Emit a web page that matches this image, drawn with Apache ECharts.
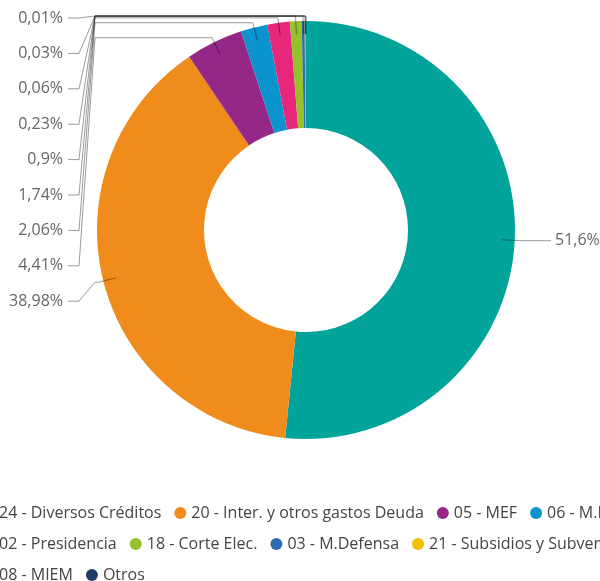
<!DOCTYPE html>
<html><head><meta charset="utf-8">
<script src="https://cdn.jsdelivr.net/npm/echarts@6/dist/echarts.min.js"></script>
<style>html,body{margin:0;padding:0;background:#fff;overflow:hidden}#c{width:600px;height:581px}</style>
</head><body><div id="c"></div>
<script>
const categories = ['24 - Diversos Créditos', '20 - Inter. y otros gastos Deuda', '05 - MEF', '06 - M.RREE', '02 - Presidencia', '18 - Corte Elec.', '03 - M.Defensa', '21 - Subsidios y Subvenciones', '08 - MIEM', 'Otros'];
const shares = [51.6, 38.98, 4.41, 2.06, 1.74, 0.9, 0.23, 0.06, 0.03, 0.01];
const colors = ['#01A39A', '#F08C1C', '#952787', '#0A93CC', '#E7277C', '#95C12B', '#2F6CB3', '#EFC000', '#D64550', '#1F3F68'];

const chart = echarts.init(document.getElementById('c'), null, {renderer: 'canvas'});
const CX = 306, CY = 230, R0 = 102, R = 209;
const LABEL_RIGHT = 63, SLOT_TOP = 18, SLOT_STEP = 35.4, ELBOW_X = 95, FOOT_X = 79;
const N = shares.length;

function fmt(v) { return String(v).replace('.', ',') + '%'; }

const pieData = categories.map((n, i) => ({name: n, value: shares[i]}));

const option = {
  animation: false,
  color: colors,
  legend: {
    left: -18, top: 504, width: 740, orient: 'horizontal', padding: 0,
    icon: 'circle', itemWidth: 12, itemHeight: 12, itemGap: 13,
    textStyle: {fontSize: 16, color: '#444', fontFamily: 'Open Sans', lineHeight: 18},
    data: categories
  },
  series: [{
    type: 'pie', z: 2, center: [CX, CY], radius: [R0, R], startAngle: 90, clockwise: true,
    avoidLabelOverlap: false,
    data: pieData,
    label: {show: false},
    labelLine: {show: false},
    emphasis: {disabled: true}
  }, {
    // transparent overlay carrying the labels so the leader lines draw over the slices
    type: 'pie', z: 3, silent: true, center: [CX, CY], radius: [R0, R], startAngle: 90, clockwise: true,
    avoidLabelOverlap: false,
    data: pieData,
    legendHoverLink: false,
    itemStyle: {color: 'rgba(0,0,0,0)'},
    label: {show: true, position: 'outside', formatter: p => fmt(p.value), color: '#666', fontSize: 16, fontFamily: 'Open Sans'},
    labelLine: {show: true, length: 5, length2: 10, lineStyle: {color: 'rgba(0,0,0,0.4)', width: 1}},
    emphasis: {disabled: true},
    labelLayout: function (p) {
      const pts = p.labelLinePoints;
      if (!pts) return {};
      let dx = pts[1][0] - pts[0][0], dy = pts[1][1] - pts[0][1];
      const len = Math.hypot(dx, dy) || 1; dx /= len; dy /= len;
      const start = [pts[0][0] - dx * 13, pts[0][1] - dy * 13];
      const knee = [pts[0][0] + dx * 5, pts[0][1] + dy * 5];
      const d = p.dataIndex;
      if (d === 0) {
        return {x: 555, y: knee[1], align: 'left', verticalAlign: 'middle',
          labelLinePoints: [start, knee, [551, knee[1]]]};
      }
      const ly = SLOT_TOP + (N - 1 - d) * SLOT_STEP;
      return {x: LABEL_RIGHT, y: ly, align: 'right', verticalAlign: 'middle',
        labelLinePoints: [start, knee, [ELBOW_X, knee[1]], [FOOT_X, ly], [LABEL_RIGHT + 5, ly]]};
    }
  }]
};
chart.setOption(option);
</script></body></html>
